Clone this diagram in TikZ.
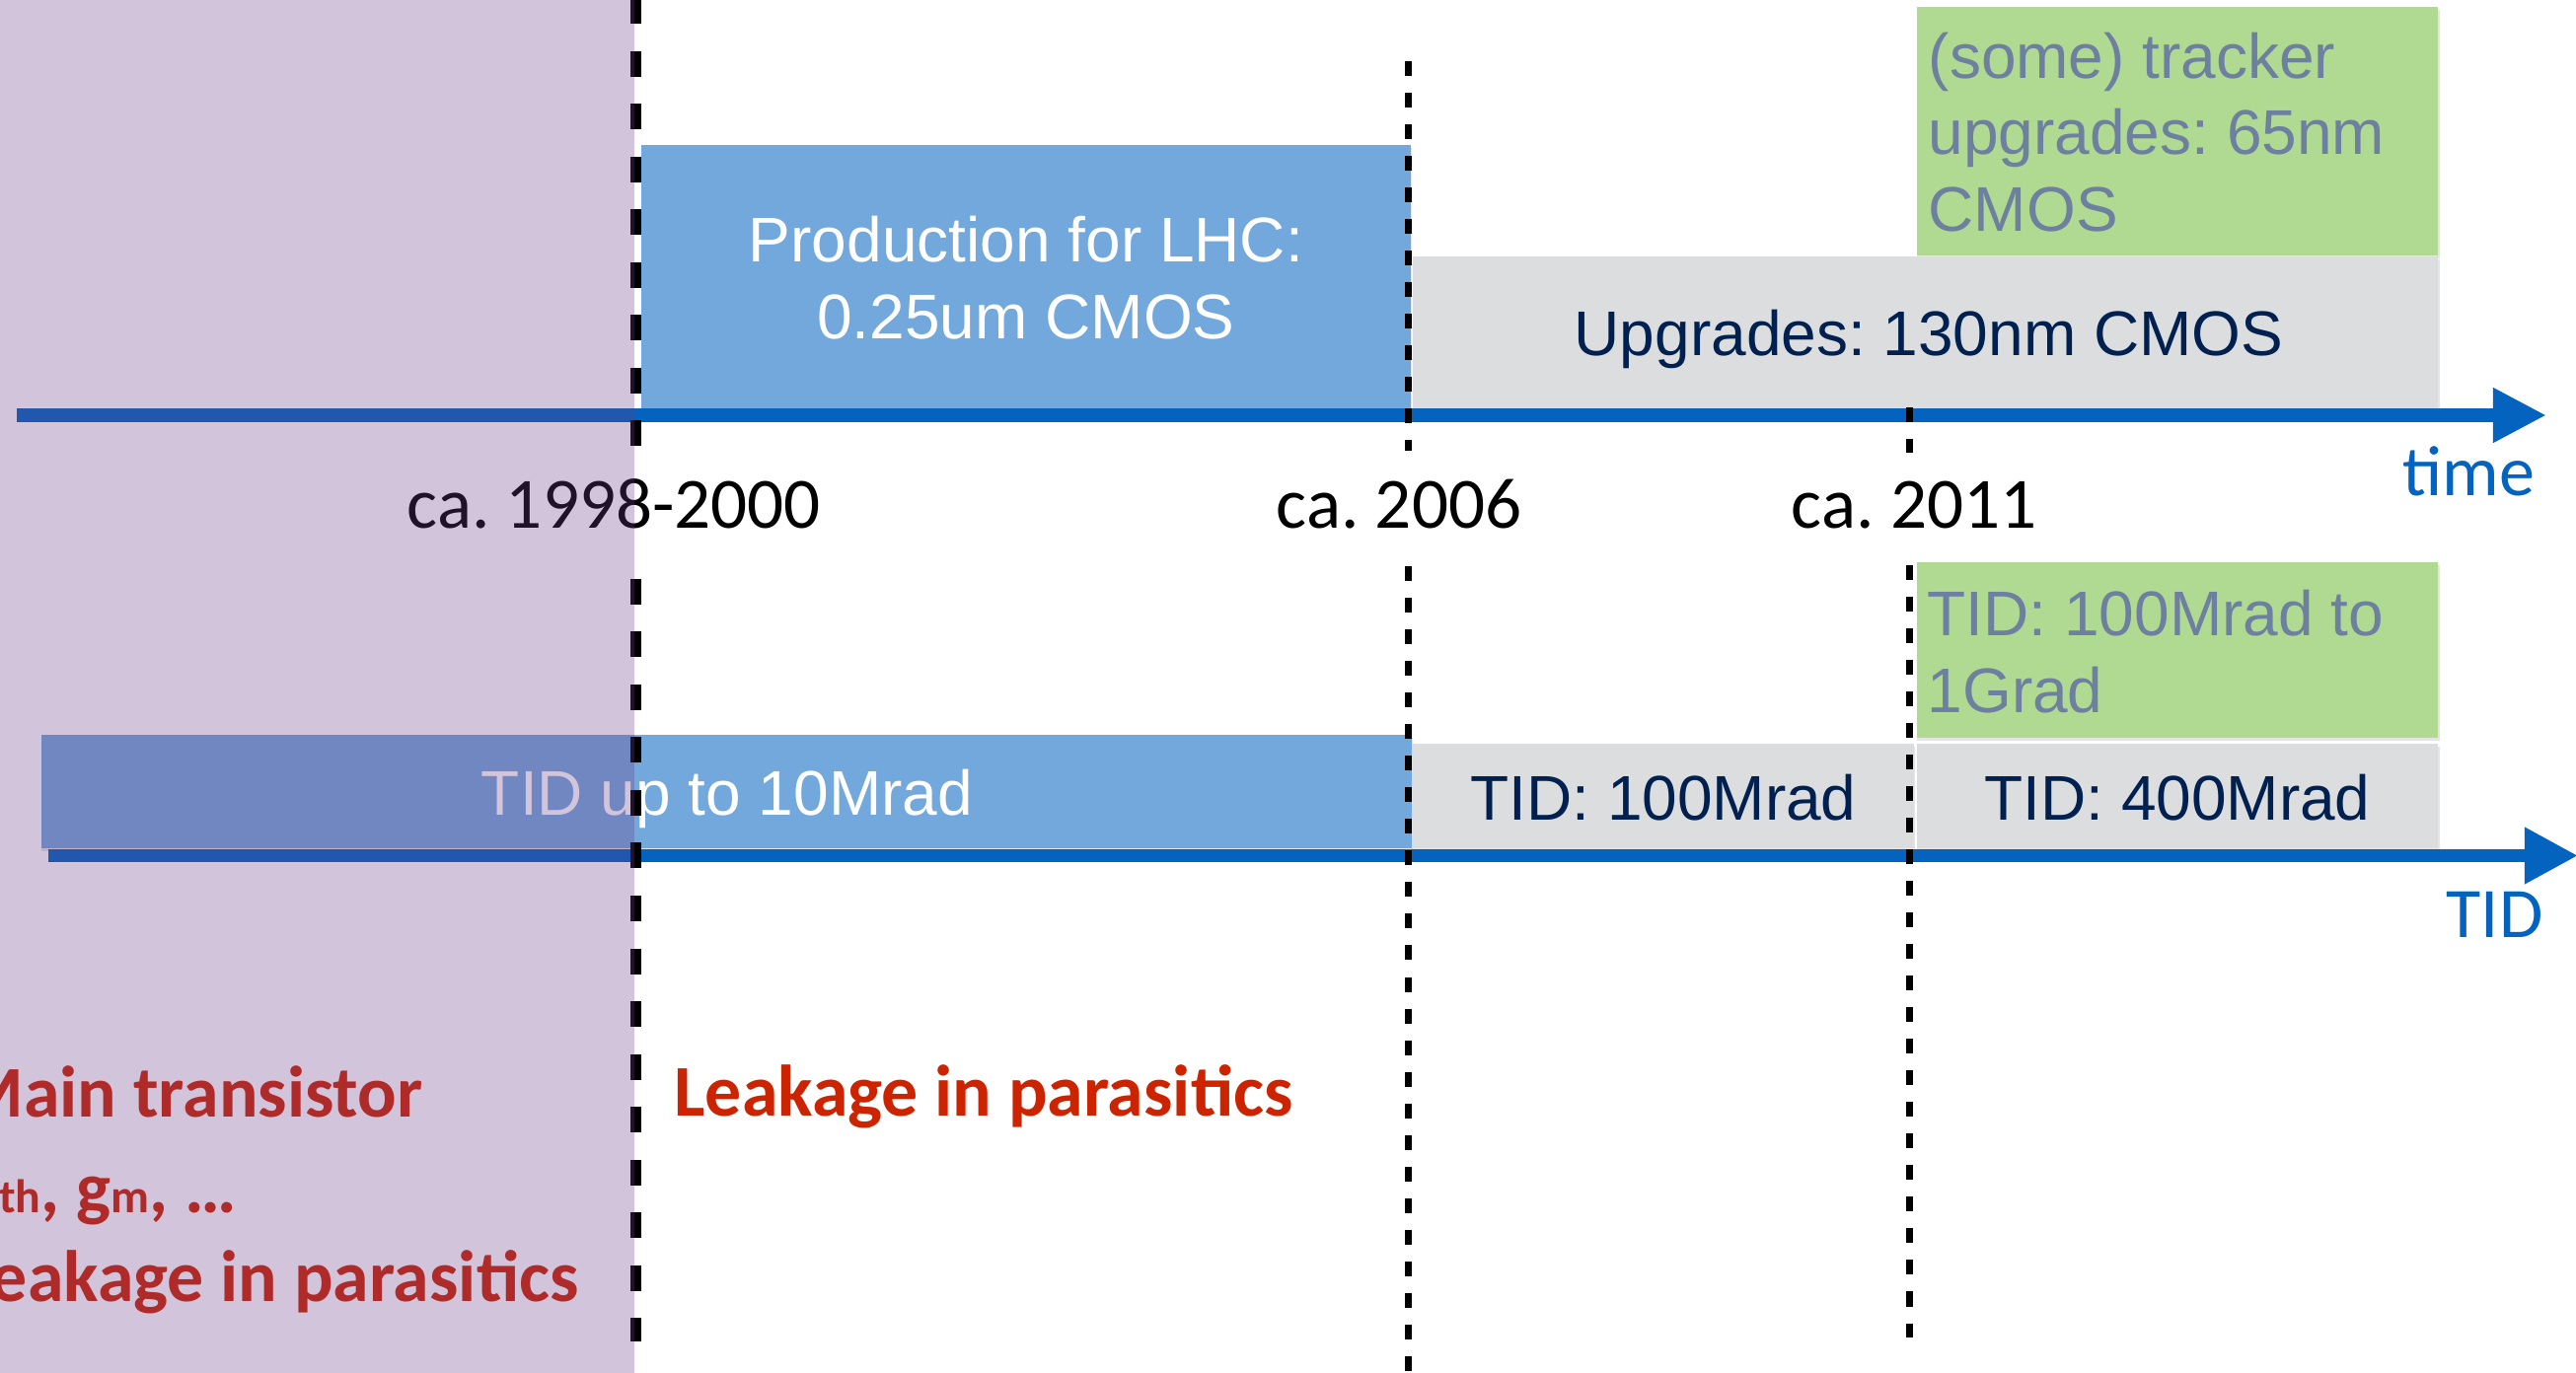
\documentclass[tikz,border=0pt]{standalone}
\usepackage{fontspec}
\newfontfamily\helvfont{Liberation Sans}
\newfontfamily\califont{Carlito}
\usetikzlibrary{arrows.meta}
\definecolor{axisblue}{RGB}{3,99,190}
\definecolor{boxblue}{RGB}{114,168,219}
\definecolor{boxgray}{RGB}{220,221,223}
\definecolor{boxgreen}{RGB}{176,217,145}
\definecolor{navytext}{RGB}{0,32,80}
\definecolor{greytext}{RGB}{110,128,160}
\definecolor{redtext}{RGB}{204,36,0}
\definecolor{purpleveil}{RGB}{108,62,138}
\begin{document}
\frenchspacing
\begin{tikzpicture}[x=0.01cm,y=-0.01cm,
  shadowbox/.style={fill=black, opacity=0.10},
  helv/.style={font=\helvfont\fontsize{18.2}{21.9}\selectfont, inner sep=0pt},
  cali/.style={font=\califont\fontsize{20.8}{25}\selectfont, inner sep=0pt},
  calibold/.style={font=\califont\bfseries\fontsize{21.0}{25}\selectfont, inner sep=0pt, text=redtext, anchor=base west},
  axislbl/.style={font=\califont\fontsize{20.5}{25}\selectfont, inner sep=0pt, text=axisblue, anchor=base west},
  yearlbl/.style={cali, fill=white, inner ysep=0.3cm, anchor=base west},
  axisline/.style={draw=axisblue, line width=0.14cm},
  thickdash/.style={line width=0.11cm, dash pattern=on 0.26cm off 0.275cm},
  thindash/.style={line width=0.07cm, dash pattern=on 0.15cm off 0.17cm},
]
\useasboundingbox (0,0) rectangle (2611,1392);
\clip (0,0) rectangle (2611,1392);
\fill[white] (0,0) rectangle (2611,1392);

% shadows
\fill[shadowbox] (650,150) rectangle (1431,417);
\fill[shadowbox] (1432,263) rectangle (2473,417);
\fill[shadowbox] (1943,10) rectangle (2473,262);
\fill[shadowbox] (42,748) rectangle (1432,863);
\fill[shadowbox] (1431,757) rectangle (1941,863);
\fill[shadowbox] (1943,757) rectangle (2473,863);
\fill[shadowbox] (1943,573) rectangle (2473,751);

% boxes
\fill[boxblue] (650,147) rectangle (1430,414);
\fill[boxgray] (1432,260) rectangle (2471,414);
\fill[boxgreen] (1943,7) rectangle (2471,259);
\fill[boxblue] (42,745) rectangle (1431,860);
\fill[boxgray] (1431,754) rectangle (1940,860);
\fill[boxgray] (1943,754) rectangle (2471,860);
\fill[boxgreen] (1943,570) rectangle (2471,748);

% axes
\coordinate (t0) at (17,421);
\coordinate (t1) at (2581,421);
\draw[axisline, -{Triangle[length=0.54cm,width=0.52cm]}] (t0) -- (t1);
\coordinate (d0) at (49,867.5);
\coordinate (d1) at (2613,867.5);
\draw[axisline, line width=0.13cm, -{Triangle[length=0.54cm,width=0.54cm]}] (d0) -- (d1);

% box texts
\node[helv, text=white, anchor=base] (prodtxt) at (1040,266)
  {\begin{tabular}[t]{@{}c@{}}Production for LHC:\\0.25um CMOS\end{tabular}};
\node[helv, text=navytext, anchor=base] (upgtxt) at (1955,361) {Upgrades: 130nm CMOS};
\node[helv, text=greytext, anchor=base west] (trktxt) at (1954,80)
  {\begin{tabular}[t]{@{}l@{}}(some) tracker\\upgrades: 65nm\\CMOS\end{tabular}};
\node[helv, text=white, anchor=base] (tid10) at (737,827) {TID up to 10Mrad};
\node[helv, text=navytext, anchor=base] (tid100) at (1686,832) {TID: 100Mrad};
\node[helv, text=navytext, anchor=base] (tid400) at (2207,832) {TID: 400Mrad};
\node[helv, text=greytext, anchor=base west] (tid1g) at (1953,645)
  {\begin{tabular}[t]{@{}l@{}}TID: 100Mrad to\\1Grad\end{tabular}};

% axis labels
\node[axislbl] (timelbl) at (2435,503) {time};
\node[axislbl] (tidlbl) at (2479,951) {TID};

% vertical lines
\coordinate (va0) at (644,-2);
\coordinate (va1) at (644,1360);
\draw[thickdash] (va0) -- (va1);
\coordinate (vb0) at (1427,62);
\coordinate (vb1) at (1427,1395);
\draw[thindash] (vb0) -- (vb1);
\coordinate (vc0) at (1935,413);
\coordinate (vc1) at (1935,1356);
\draw[thindash] (vc0) -- (vc1);

% year labels
\node[yearlbl] (y1998) at (412,536) {ca. 1998-2000};
\node[yearlbl] (y2006) at (1293,536) {ca. 2006};
\node[yearlbl] (y2011) at (1815,536) {ca. 2011};

% red texts
\node[calibold] (leakR) at (683,1132) {Leakage in parasitics};
\node[calibold] (mainT) at (-41,1133) {Main transistor};
\node[calibold] (vthgm) at (-45,1230) {V{\fontsize{13.6}{16}\selectfont th}, g{\fontsize{13.6}{16}\selectfont m}, \ldots};
\node[calibold] (leakL) at (-41,1320) {Leakage in parasitics};

% purple veil
\fill[purpleveil, opacity=0.3] (0,0) rectangle (643,1392);
\end{tikzpicture}
\end{document}
